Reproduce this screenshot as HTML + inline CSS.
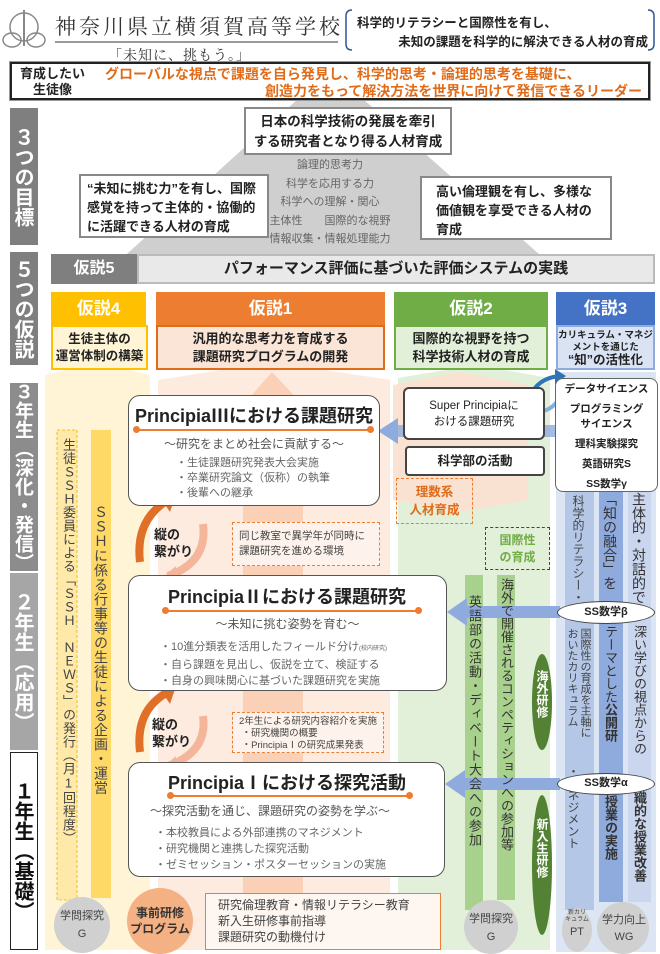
<!DOCTYPE html>
<html><head><meta charset="utf-8"><style>
*{margin:0;padding:0;box-sizing:border-box}
body{width:660px;height:954px;position:relative;background:#fff;font-family:"Liberation Sans","Noto Sans CJK JP",sans-serif;overflow:hidden;color:#222}
.a{position:absolute}
.v{writing-mode:vertical-rl;text-orientation:upright}
.b{font-weight:bold}
.c{text-align:center}
.box{position:absolute;background:#fff;border:1.5px solid #555;border-radius:12px}
.lbl{position:absolute;color:#fff;font-weight:bold;writing-mode:vertical-rl;text-orientation:upright;display:flex;align-items:center;justify-content:center;font-size:19px;line-height:22px;white-space:nowrap;font-family:"Noto Sans CJK JP",sans-serif}
.g{color:#666;font-size:11px}
.note{position:absolute;border:1px dashed #ed7d31;background:#fdf3ec;font-size:10.5px;color:#444;padding:3px 6px;line-height:15px}
</style></head><body>
<svg class="a" style="left:0;top:0" width="660" height="954">
<polygon points="330,70 548,262 118,262" fill="#cfcfcf"/>
<polygon points="45,375 98,362 150,375 150,950 45,950" fill="#fff2cc" opacity="0.8"/>
<polygon points="158,380 272,362 390,380 390,950 158,950" fill="#fce6d8" opacity="0.8"/>
<polygon points="243,405 272,372 303,405 303,950 243,950" fill="#f9c9ad" opacity="0.8"/>
<polygon points="398,378 475,365 550,378 550,950 398,950" fill="#e3f0d9"/>
<polygon points="393,385 460,372 528,385 528,500 460,512 393,500" fill="#fbe0cf" opacity="0.9"/>
<rect x="556" y="372" width="100" height="580" fill="#dce5f4"/>
<rect x="565" y="490" width="29" height="420" fill="#b4c7e7"/>
<rect x="599" y="490" width="24" height="412" fill="#8faadc"/>
<rect x="628" y="490" width="23" height="412" fill="#c9d6ee"/>
<rect x="57" y="430" width="20" height="470" fill="#ffe9a8" stroke="#f0b000" stroke-dasharray="3,2" stroke-width="0.8"/>
<rect x="91" y="430" width="20" height="468" fill="#ffd966"/>
<rect x="465" y="575" width="18" height="335" fill="#a9d18e"/>
<rect x="497" y="575" width="18" height="325" fill="#a9d18e"/>
<ellipse cx="542" cy="702" rx="10" ry="48" fill="#548235"/>
<ellipse cx="542" cy="865" rx="10" ry="70" fill="#548235"/>
<rect x="395" y="425" width="162" height="12" fill="#8faadc" opacity="0.8"/>
<polygon points="378,431 398,418 398,444" fill="#8faadc"/>
<rect x="465" y="606" width="95" height="12" fill="#8faadc"/>
<polygon points="447,612 467,598 467,626" fill="#8faadc"/>
<rect x="465" y="778" width="95" height="12" fill="#8faadc"/>
<polygon points="445,784 465,770 465,798" fill="#8faadc"/>
<path d="M528,402 Q535,378 560,376" stroke="#2e75b6" stroke-width="4" fill="none"/>
<polygon points="566,376 555,369 555,384" fill="#2e75b6"/>
<path d="M562,392 Q555,412 535,412" stroke="#7fb0de" stroke-width="4" fill="none"/>
<polygon points="528,412 538,405 538,419" fill="#7fb0de"/>
<path d="M140,562 Q135,520 168,500" stroke="#e07028" stroke-width="8" fill="none"/>
<polygon points="176,494 158,494 170,512" fill="#e07028"/>
<path d="M203,524 Q208,562 168,576" stroke="#f4b59a" stroke-width="8" fill="none"/>
<polygon points="160,580 176,566 174,590" fill="#f4b59a"/>
<path d="M140,752 Q135,710 168,692" stroke="#e07028" stroke-width="8" fill="none"/>
<polygon points="176,686 158,686 170,704" fill="#e07028"/>
<path d="M203,716 Q208,752 168,766" stroke="#f4b59a" stroke-width="8" fill="none"/>
<polygon points="160,770 176,756 174,780" fill="#f4b59a"/>
<path d="M352,10 Q346,10 346,16 L346,44 Q346,50 352,50" stroke="#2f5597" stroke-width="1.5" fill="none"/>
<path d="M648,10 Q654,10 654,16 L654,44 Q654,50 648,50" stroke="#2f5597" stroke-width="1.5" fill="none"/>
<circle cx="24" cy="27" r="14" fill="none" stroke="#888" stroke-width="1.5"/>
<ellipse cx="12" cy="40" rx="9" ry="7" fill="none" stroke="#888" stroke-width="1.5"/>
<ellipse cx="36" cy="40" rx="9" ry="7" fill="none" stroke="#888" stroke-width="1.5"/>
<line x1="24" y1="10" x2="24" y2="46" stroke="#888" stroke-width="2"/>
<line x1="55" y1="42" x2="338" y2="42" stroke="#333" stroke-width="1"/>
<circle cx="82" cy="925" r="28" fill="#d0d0d0"/>
<circle cx="491" cy="927" r="27" fill="#d0d0d0"/>
<ellipse cx="577" cy="930" rx="15" ry="22" fill="#d0d0d0"/>
<circle cx="623" cy="928" r="26" fill="#d0d0d0"/>
<circle cx="160" cy="921" r="33" fill="#f4b183"/>
</svg>

<div class="a" style="left:55px;top:11px;font-family:'Liberation Serif','Noto Serif CJK JP',serif;font-size:21px;letter-spacing:3px;color:#333;white-space:nowrap">神奈川県立横須賀高等学校</div>
<div class="a" style="left:108px;top:45px;font-family:'Liberation Serif','Noto Serif CJK JP',serif;font-size:14px;letter-spacing:1px;color:#333">「未知に、挑もう。」</div>
<div class="a b" style="left:357px;top:12px;font-size:12.5px">科学的リテラシーと国際性を有し、</div>
<div class="a b" style="right:12px;top:31px;font-size:12.5px">未知の課題を科学的に解決できる人材の育成</div>

<div class="a" style="left:10px;top:62px;width:640px;height:38px;border:2.5px solid #222;outline:1px solid #999;background:#fff"></div>
<div class="a b c" style="left:20px;top:66px;font-size:13px;line-height:16px">育成したい<br>生徒像</div>
<div class="a b" style="left:105px;top:64px;font-size:14px;color:#e06c1a">グローバルな視点で課題を自ら発見し、科学的思考・論理的思考を基礎に、</div>
<div class="a b" style="right:18px;top:81px;font-size:14px;color:#e06c1a">創造力をもって解決方法を世界に向けて発信できるリーダー</div>

<div class="lbl" style="left:10px;top:108px;width:28px;height:137px;background:#7f7f7f;font-size:20px">３つの目標</div>
<div class="lbl" style="left:10px;top:252px;width:28px;height:113px;background:#7f7f7f;font-size:20px">５つの仮説</div>
<div class="lbl" style="left:10px;top:383px;width:28px;height:188px;background:#8c8c8c;font-size:19px;line-height:20px">３年生（深化・発信）</div>
<div class="lbl" style="left:10px;top:573px;width:28px;height:177px;background:#a6a6a6;font-size:20px">２年生（応用）</div>
<div class="lbl" style="left:10px;top:752px;width:28px;height:198px;background:#fff;border:1.5px solid #222;color:#111;font-size:20px">１年生（基礎）</div>

<div class="a b c" style="left:244px;top:107px;width:208px;height:48px;background:#fff;border:2px solid #888;font-size:13.5px;line-height:20px;padding-top:3px">日本の科学技術の発展を牽引<br>する研究者となり得る人材育成</div>
<div class="a g c" style="left:255px;top:156px;width:150px;line-height:18.5px">論理的思考力<br>科学を応用する力<br>科学への理解・関心<br>主体性　　国際的な視野<br>情報収集・情報処理能力</div>
<div class="a b" style="left:79px;top:174px;width:190px;height:64px;background:#fff;border:2px solid #888;font-size:13px;line-height:19px;padding:3px 6px">“未知に挑む力”を有し、国際感覚を持って主体的・協働的に活躍できる人材の育成</div>
<div class="a b" style="left:420px;top:176px;width:192px;height:64px;background:#fff;border:2px solid #888;font-size:13px;line-height:19px;padding:4px 14px">高い倫理観を有し、多様な価値観を享受できる人材の育成</div>

<div class="a b c" style="left:51px;top:254px;width:86px;height:30px;background:#7f7f7f;color:#fff;font-size:16px;line-height:30px">仮説5</div>
<div class="a b c" style="left:137px;top:254px;width:518px;height:30px;background:#e9e9e9;border:2px solid #bbb;font-size:15px;line-height:26px">パフォーマンス評価に基づいた評価システムの実践</div>
<div class="a b c" style="left:51px;top:292px;width:95px;height:33px;background:#ffc000;color:#fff;font-size:17px;line-height:33px">仮説4</div>
<div class="a b c" style="left:51px;top:325px;width:97px;height:45px;background:#fff5d6;border:2px solid #ffc000;font-size:12.5px;line-height:17px;padding-top:4px">生徒主体の<br>運営体制の構築</div>
<div class="a b c" style="left:156px;top:292px;width:229px;height:33px;background:#ed7d31;color:#fff;font-size:17px;line-height:33px">仮説1</div>
<div class="a b c" style="left:156px;top:325px;width:229px;height:45px;background:#fbe5d6;border:2px solid #e06c1a;font-size:13px;line-height:18px;padding-top:3px">汎用的な思考力を育成する<br>課題研究プログラムの開発</div>
<div class="a b c" style="left:394px;top:292px;width:154px;height:33px;background:#70ad47;color:#fff;font-size:17px;line-height:33px">仮説2</div>
<div class="a b c" style="left:394px;top:325px;width:154px;height:45px;background:#e2f0d9;border:2px solid #70ad47;font-size:13px;line-height:18px;padding-top:3px">国際的な視野を持つ<br>科学技術人材の育成</div>
<div class="a b c" style="left:556px;top:292px;width:99px;height:33px;background:#4472c4;color:#fff;font-size:17px;line-height:33px">仮説3</div>
<div class="a b c" style="left:556px;top:325px;width:99px;height:45px;background:#dae3f3;border:2px solid #8faadc;font-size:9.5px;line-height:12px;padding-top:3px">カリキュラム・マネジメントを通じた<br><span style="font-size:12.5px">“知”の活性化</span></div>

<div class="a v" style="left:59px;top:438px;font-size:13px;line-height:18px;color:#444;letter-spacing:0.5px;white-space:nowrap">生徒ＳＳＨ委員による「ＳＳＨ　ＮＥＷＳ」の発行（月1回程度）</div>
<div class="a v" style="left:92px;top:505px;font-size:14px;line-height:18px;color:#444;letter-spacing:0.5px;white-space:nowrap">ＳＳＨに係る行事等の生徒による企画・運営</div>

<div class="box" style="left:128px;top:395px;width:252px;height:111px"></div>
<div class="a b" style="left:135px;top:402px;font-size:18px">PrincipiaⅢにおける課題研究</div>
<div class="a" style="left:136px;top:429px;width:234px;height:1.5px;background:#ed7d31"></div>
<div class="a" style="left:133px;top:426px;width:7px;height:7px;border-radius:50%;background:#ed7d31"></div>
<div class="a" style="left:367px;top:426px;width:7px;height:7px;border-radius:50%;background:#ed7d31"></div>
<div class="a c" style="left:128px;top:435px;width:252px;font-size:12px;color:#555">～研究をまとめ社会に貢献する～</div>
<div class="a g" style="left:176px;top:456px;line-height:15px">・生徒課題研究発表大会実施<br>・卒業研究論文（仮称）の執筆<br>・後輩への継承</div>

<div class="a b" style="left:154px;top:526px;font-size:13px;line-height:17px">縦の<br>繋がり</div>
<div class="note" style="left:232px;top:522px;width:148px;height:44px;padding-top:6px">同じ教室で異学年が同時に<br>課題研究を進める環境</div>

<div class="box" style="left:128px;top:575px;width:319px;height:116px"></div>
<div class="a b" style="left:168px;top:583px;font-size:18px">PrincipiaⅡにおける課題研究</div>
<div class="a" style="left:165px;top:610px;width:253px;height:1.5px;background:#ed7d31"></div>
<div class="a" style="left:162px;top:607px;width:7px;height:7px;border-radius:50%;background:#ed7d31"></div>
<div class="a" style="left:415px;top:607px;width:7px;height:7px;border-radius:50%;background:#ed7d31"></div>
<div class="a c" style="left:128px;top:615px;width:319px;font-size:12px;color:#555">～未知に挑む姿勢を育む～</div>
<div class="a g" style="left:160px;top:639px;line-height:16px;font-size:11px">・10進分類表を活用したフィールド分け<span style="font-size:6px">(校内研究)</span><br>・自ら課題を見出し、仮説を立て、検証する<br>・自身の興味関心に基づいた課題研究を実施</div>

<div class="a b" style="left:152px;top:716px;font-size:13px;line-height:17px">縦の<br>繋がり</div>
<div class="note" style="left:232px;top:712px;width:152px;height:41px;font-size:9.5px;line-height:12px">2年生による研究内容紹介を実施<br>&nbsp;・研究機関の概要<br>&nbsp;・PrincipiaⅠの研究成果発表</div>

<div class="box" style="left:128px;top:762px;width:317px;height:115px"></div>
<div class="a b" style="left:168px;top:769px;font-size:18px">PrincipiaⅠにおける探究活動</div>
<div class="a" style="left:170px;top:795px;width:240px;height:1.5px;background:#ed7d31"></div>
<div class="a" style="left:167px;top:792px;width:7px;height:7px;border-radius:50%;background:#ed7d31"></div>
<div class="a" style="left:406px;top:792px;width:7px;height:7px;border-radius:50%;background:#ed7d31"></div>
<div class="a" style="left:150px;top:802px;font-size:12px;color:#555">～探究活動を通じ、課題研究の姿勢を学ぶ～</div>
<div class="a g" style="left:155px;top:825px;line-height:16px">・本校教員による外部連携のマネジメント<br>・研究機関と連携した探究活動<br>・ゼミセッション・ポスターセッションの実施</div>

<div class="a b c" style="left:127px;top:905px;width:66px;font-size:12px;line-height:16px;color:#333">事前研修<br>プログラム</div>
<div class="a" style="left:205px;top:893px;width:236px;height:57px;border:1.5px solid #ed7d31;background:#fdf6f1;font-size:12px;line-height:16px;padding:3px 12px;color:#444">研究倫理教育・情報リテラシー教育<br>新入生研修事前指導<br>課題研究の動機付け</div>

<div class="a c" style="left:403px;top:387px;width:142px;height:53px;background:#fff;border:2px solid #444;border-radius:6px;font-size:11.5px;line-height:16px;padding-top:9px">Super Principiaに<br>おける課題研究</div>
<div class="a b c" style="left:405px;top:446px;width:140px;height:30px;background:#fff;border:2px solid #444;border-radius:4px;font-size:12.5px;line-height:26px">科学部の活動</div>
<div class="a b c" style="left:396px;top:478px;width:77px;height:46px;border:1px dashed #ed7d31;color:#e06c1a;font-size:12.5px;line-height:18px;padding-top:4px">理数系<br>人材育成</div>
<div class="a b c" style="left:485px;top:527px;width:65px;height:43px;border:1px dashed #444;color:#70ad47;font-size:12px;line-height:17px;padding-top:4px">国際性<br>の育成</div>
<div class="a v" style="left:465px;top:595px;font-size:13px;line-height:18px;color:#333;letter-spacing:1px;white-space:nowrap">英語部の活動・ディベート大会への参加</div>
<div class="a v" style="left:497px;top:578px;font-size:13px;line-height:18px;color:#333;white-space:nowrap">海外で開催されるコンペティションへの参加等</div>
<div class="a v b" style="left:534px;top:670px;font-size:12px;color:#fff;line-height:16px">海外研修</div>
<div class="a v b" style="left:534px;top:818px;font-size:12px;color:#fff;line-height:16px">新入生研修</div>

<div class="a c" style="left:555px;top:378px;width:103px;height:114px;background:#fff;border:1.5px solid #666;border-radius:8px;font-size:10.5px;font-weight:bold;line-height:15px;padding-top:3px">データサイエンス<div style="height:5px"></div>プログラミング<br>サイエンス<div style="height:5px"></div>理科実験探究<div style="height:5px"></div>英語研究S<div style="height:5px"></div>SS数学γ</div>
<div class="a v" style="left:571px;top:495px;font-size:12px;line-height:14px;color:#444;white-space:nowrap">科学的リテラシー・</div>
<div class="a v" style="left:578px;top:628px;font-size:11px;line-height:13px;color:#444;white-space:nowrap">国際性の育成を主軸に</div>
<div class="a v" style="left:565px;top:628px;font-size:11px;line-height:13px;color:#444;white-space:nowrap">おいたカリキュラム</div>
<div class="a v" style="left:566px;top:765px;font-size:12px;line-height:14px;color:#444;white-space:nowrap">・マネジメント</div>
<div class="a v" style="left:601px;top:492px;font-size:14px;line-height:18px;color:#333;white-space:nowrap">「知の融合」を</div>
<div class="a v" style="left:601px;top:625px;font-size:13px;line-height:18px;color:#333;white-space:nowrap">テーマとした<b>公開研</b></div>
<div class="a v b" style="left:601px;top:782px;font-size:13px;line-height:18px;color:#333;white-space:nowrap">究授業の実施</div>
<div class="a v" style="left:630px;top:492px;font-size:14px;line-height:18px;color:#333;white-space:nowrap">主体的・対話的で</div>
<div class="a v" style="left:630px;top:625px;font-size:13px;line-height:18px;color:#333;white-space:nowrap">深い学びの視点からの</div>
<div class="a v b" style="left:630px;top:778px;font-size:13px;line-height:18px;color:#333;white-space:nowrap">組織的な授業改善</div>
<div class="a b c" style="left:557px;top:601px;width:98px;height:23px;border-radius:50%;background:#fff;border:1.5px solid #444;font-size:11px;line-height:20px">SS数学β</div>
<div class="a b c" style="left:557px;top:773px;width:98px;height:22px;border-radius:50%;background:#fff;border:1.5px solid #444;font-size:11px;line-height:19px">SS数学α</div>

<div class="a c" style="left:52px;top:907px;width:60px;font-size:11px;line-height:18px;color:#444">学問探究<br>G</div>
<div class="a c" style="left:461px;top:910px;width:60px;font-size:11px;line-height:18px;color:#444">学問探究<br>G</div>
<div class="a c" style="left:562px;top:910px;width:30px;font-size:6px;line-height:7px;color:#444">新カリ<br>キュラム<br><span style="font-size:11px;line-height:16px">PT</span></div>
<div class="a c" style="left:597px;top:912px;width:54px;font-size:11px;line-height:17px;color:#444">学力向上<br>WG</div>
</body></html>
